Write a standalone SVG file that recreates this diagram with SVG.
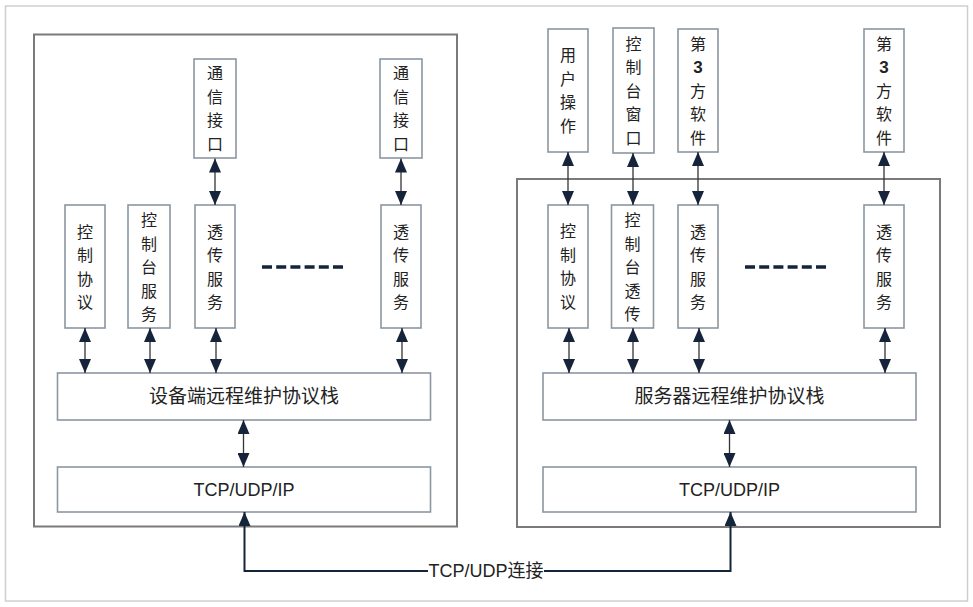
<svg xmlns="http://www.w3.org/2000/svg" width="973" height="607" viewBox="0 0 973 607">
<style>
.frame{fill:#fff;stroke:#cfcfcf;stroke-width:1.5}
.cont{fill:none;stroke:#7a7a7a;stroke-width:2}
.box{fill:#fff;stroke:#8b97a2;stroke-width:1.6}
.v{font-family:"Noto Sans CJK SC","Noto Sans",sans-serif;font-size:16px;fill:#222;text-anchor:middle}
.h{font-family:"Noto Sans CJK SC","Noto Sans",sans-serif;font-size:19px;fill:#222;text-anchor:middle}
.n{font-family:"Liberation Sans",Arial,sans-serif;font-weight:bold;font-size:17px}
.lat{font-family:"Liberation Sans","Noto Sans CJK SC",sans-serif;font-size:18px;fill:#222;text-anchor:middle}
.arr{stroke:#333;stroke-width:1.3;fill:none;marker-start:url(#ah);marker-end:url(#ah)}
.dash{stroke:#15243a;stroke-width:3.5;stroke-dasharray:10 4.2;fill:none}
</style>
<defs>
<marker id="ah" viewBox="0 0 14 12" refX="14" refY="6" markerWidth="14" markerHeight="12" markerUnits="userSpaceOnUse" orient="auto-start-reverse">
<path d="M0,0 L14,6 L0,12 z" fill="#15243a"/>
</marker>
</defs>
<rect class="frame" x="5.5" y="6" width="962" height="595"/>

<g id="device-side">
<rect class="cont" x="34" y="34.5" width="423" height="492"/>
</g>
<g id="server-side">
<rect class="cont" x="517" y="179" width="423" height="348"/>
</g>

<g id="dev-comm1"><rect class="box" x="194" y="59" width="42" height="99"/>
<text class="v"><tspan x="215" y="79">通</tspan><tspan x="215" y="102.5">信</tspan><tspan x="215" y="126">接</tspan><tspan x="215" y="149.5">口</tspan></text></g>
<g id="dev-comm2"><rect class="box" x="380" y="59" width="42" height="99"/>
<text class="v"><tspan x="401" y="79">通</tspan><tspan x="401" y="102.5">信</tspan><tspan x="401" y="126">接</tspan><tspan x="401" y="149.5">口</tspan></text></g>

<g id="dev-ctrl"><rect class="box" x="65" y="205" width="40" height="123"/>
<text class="v"><tspan x="85" y="237.5">控</tspan><tspan x="85" y="261">制</tspan><tspan x="85" y="284.5">协</tspan><tspan x="85" y="308">议</tspan></text></g>
<g id="dev-console"><rect class="box" x="128" y="205" width="42" height="123"/>
<text class="v"><tspan x="149" y="226">控</tspan><tspan x="149" y="249.5">制</tspan><tspan x="149" y="273">台</tspan><tspan x="149" y="296.5">服</tspan><tspan x="149" y="320">务</tspan></text></g>
<g id="dev-pass1"><rect class="box" x="195" y="205" width="40" height="123"/>
<text class="v"><tspan x="215" y="237.5">透</tspan><tspan x="215" y="261">传</tspan><tspan x="215" y="284.5">服</tspan><tspan x="215" y="308">务</tspan></text></g>
<g id="dev-pass2"><rect class="box" x="381" y="205" width="40" height="123"/>
<text class="v"><tspan x="401" y="237.5">透</tspan><tspan x="401" y="261">传</tspan><tspan x="401" y="284.5">服</tspan><tspan x="401" y="308">务</tspan></text></g>
<g id="dev-dots"><line class="dash" x1="262" y1="267" x2="343" y2="267"/></g>

<g id="dev-stack"><rect class="box" x="57.5" y="373" width="373" height="47"/>
<text class="h" x="244" y="403">设备端远程维护协议栈</text></g>
<g id="dev-tcp"><rect class="box" x="57.5" y="467" width="373" height="45"/>
<text class="lat" x="244" y="496">TCP/UDP/IP</text></g>

<g id="srv-user"><rect class="box" x="548" y="29" width="40" height="123"/>
<text class="v"><tspan x="568" y="61">用</tspan><tspan x="568" y="84.5">户</tspan><tspan x="568" y="108">操</tspan><tspan x="568" y="131.5">作</tspan></text></g>
<g id="srv-win"><rect class="box" x="613" y="28" width="41" height="125"/>
<text class="v"><tspan x="633.5" y="49.5">控</tspan><tspan x="633.5" y="73">制</tspan><tspan x="633.5" y="96.5">台</tspan><tspan x="633.5" y="120">窗</tspan><tspan x="633.5" y="143.5">口</tspan></text></g>
<g id="srv-3rd1"><rect class="box" x="678" y="29" width="40" height="123"/>
<text class="v"><tspan x="698" y="49.5">第</tspan><tspan x="698" y="73" class="n">3</tspan><tspan x="698" y="96.5">方</tspan><tspan x="698" y="120">软</tspan><tspan x="698" y="143.5">件</tspan></text></g>
<g id="srv-3rd2"><rect class="box" x="864" y="29" width="40" height="123"/>
<text class="v"><tspan x="884" y="49.5">第</tspan><tspan x="884" y="73" class="n">3</tspan><tspan x="884" y="96.5">方</tspan><tspan x="884" y="120">软</tspan><tspan x="884" y="143.5">件</tspan></text></g>

<g id="srv-ctrl"><rect class="box" x="548" y="205" width="40" height="123"/>
<text class="v"><tspan x="568" y="237">控</tspan><tspan x="568" y="260.5">制</tspan><tspan x="568" y="284">协</tspan><tspan x="568" y="307.5">议</tspan></text></g>
<g id="srv-console"><rect class="box" x="611.5" y="205" width="42" height="123"/>
<text class="v"><tspan x="632.5" y="226">控</tspan><tspan x="632.5" y="249.5">制</tspan><tspan x="632.5" y="273">台</tspan><tspan x="632.5" y="296.5">透</tspan><tspan x="632.5" y="320">传</tspan></text></g>
<g id="srv-pass1"><rect class="box" x="678" y="205" width="40" height="123"/>
<text class="v"><tspan x="698" y="237.5">透</tspan><tspan x="698" y="261">传</tspan><tspan x="698" y="284.5">服</tspan><tspan x="698" y="308">务</tspan></text></g>
<g id="srv-pass2"><rect class="box" x="864" y="205" width="40" height="123"/>
<text class="v"><tspan x="884" y="237.5">透</tspan><tspan x="884" y="261">传</tspan><tspan x="884" y="284.5">服</tspan><tspan x="884" y="308">务</tspan></text></g>
<g id="srv-dots"><line class="dash" x1="745" y1="267" x2="826" y2="267"/></g>

<g id="srv-stack"><rect class="box" x="543" y="373" width="373" height="47"/>
<text class="h" x="729.5" y="403">服务器远程维护协议栈</text></g>
<g id="srv-tcp"><rect class="box" x="543" y="467" width="373" height="45"/>
<text class="lat" x="729.5" y="496">TCP/UDP/IP</text></g>

<g id="connectors">
<line class="arr" x1="215" y1="158.5" x2="215" y2="205"/>
<line class="arr" x1="401" y1="158.5" x2="401" y2="205"/>
<line class="arr" x1="85" y1="328" x2="85" y2="373"/>
<line class="arr" x1="150" y1="328" x2="150" y2="373"/>
<line class="arr" x1="216" y1="328" x2="216" y2="373"/>
<line class="arr" x1="402" y1="328" x2="402" y2="373"/>
<line class="arr" x1="243.5" y1="420" x2="243.5" y2="467"/>
<line class="arr" x1="568" y1="152" x2="568" y2="205"/>
<line class="arr" x1="633" y1="153" x2="633" y2="205"/>
<line class="arr" x1="698" y1="152" x2="698" y2="205"/>
<line class="arr" x1="884" y1="152" x2="884" y2="205"/>
<line class="arr" x1="569" y1="328" x2="569" y2="373"/>
<line class="arr" x1="633" y1="328" x2="633" y2="373"/>
<line class="arr" x1="699" y1="328" x2="699" y2="373"/>
<line class="arr" x1="885" y1="328" x2="885" y2="373"/>
<line class="arr" x1="729.5" y1="420" x2="729.5" y2="467"/>
<path d="M244.5,512 V571 H730.5 V512" fill="none" stroke="#15243a" stroke-width="2" marker-start="url(#ah)" marker-end="url(#ah)"/>
<rect x="428" y="560" width="116" height="22" fill="#fff"/>
<text class="lat" x="486" y="577">TCP/UDP连接</text>
</g>
</svg>
